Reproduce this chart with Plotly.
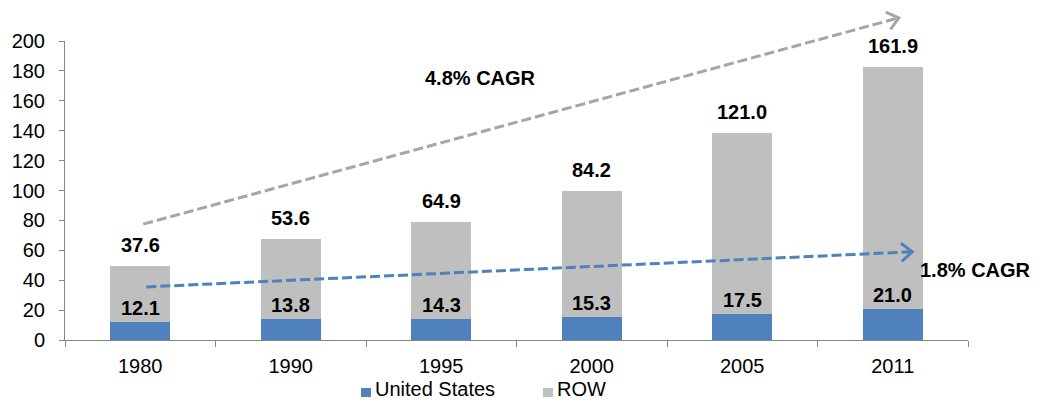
import plotly.graph_objects as go

# Installed base: United States vs rest of world
years = ["1980", "1990", "1995", "2000", "2005", "2011"]
us_values = [12.1, 13.8, 14.3, 15.3, 17.5, 21.0]
row_values = [37.6, 53.6, 64.9, 84.2, 121.0, 161.9]
series_names = ["United States", "ROW"]

# Trend arrows: (category position, value) for start and tip
row_trend = {"label": "4.8% CAGR", "start": (0.02, 77.5), "end": (5.04, 215.5)}
us_trend = {"label": "1.8% CAGR", "start": (0.04, 35.5), "end": (5.13, 59.0)}

US_COLOR = "#4F81BD"
ROW_COLOR = "#BFBFBF"
ROW_ARROW = "#A6A6A6"
AXIS_COLOR = "#868686"
FONT = "Arial, Liberation Sans, sans-serif"

W, H = 1052, 402
M = dict(l=65, r=84, t=41, b=62)
Y_MAX = 200
plot_w = W - M["l"] - M["r"]
plot_h = H - M["t"] - M["b"]
n_cat = len(years)

fig = go.Figure()
fig.add_trace(go.Bar(x=years, y=us_values, name=series_names[0],
                     marker=dict(color=US_COLOR, line=dict(width=0)), width=0.4))
fig.add_trace(go.Bar(x=years, y=row_values, name=series_names[1],
                     marker=dict(color=ROW_COLOR, line=dict(width=0)), width=0.4))

label_font = dict(family=FONT, size=20, color="black", weight="bold")
annotations = []
for i, (us, row) in enumerate(zip(us_values, row_values)):
    # numeric category index so year-like names are not read as positions
    annotations.append(dict(x=i, y=us + row, xref="x", yref="y", text=f"{row:.1f}",
                            showarrow=False, yanchor="middle", yshift=21, font=label_font))
    annotations.append(dict(x=i, y=us, xref="x", yref="y", text=f"{us:.1f}",
                            showarrow=False, yanchor="middle", yshift=14, font=label_font))


def to_paper(pos):
    cat, val = pos
    return (cat + 0.5) / n_cat, val / Y_MAX


def to_px(pos):
    px, py = to_paper(pos)
    return px * plot_w, py * plot_h


def px_to_paper(x, y):
    return x / plot_w, y / plot_h


def page_to_paper(x, y):
    # page pixels (top-left origin) to paper coordinates
    return (x - M["l"]) / plot_w, (H - M["b"] - y) / plot_h


shapes = []
for trend, color in ((row_trend, ROW_ARROW), (us_trend, US_COLOR)):
    x0, y0 = to_paper(trend["start"])
    x1, y1 = to_paper(trend["end"])
    shapes.append(dict(type="line", xref="paper", yref="paper", x0=x0, y0=y0, x1=x1, y1=y1,
                       line=dict(color=color, width=3, dash="10px,4px")))
    # open chevron head
    sx, sy = to_px(trend["start"])
    ex, ey = to_px(trend["end"])
    dx, dy = ex - sx, ey - sy
    length = (dx ** 2 + dy ** 2) ** 0.5
    ux, uy = dx / length, dy / length
    nx, ny = -uy, ux
    arm_back, arm_side = 11, 9
    a = px_to_paper(ex - ux * arm_back + nx * arm_side, ey - uy * arm_back + ny * arm_side)
    b = px_to_paper(ex - ux * arm_back - nx * arm_side, ey - uy * arm_back - ny * arm_side)
    tip = px_to_paper(ex, ey)
    shapes.append(dict(type="path", xref="paper", yref="paper",
                       path=f"M {a[0]},{a[1]} L {tip[0]},{tip[1]} L {b[0]},{b[1]}",
                       line=dict(color=color, width=3)))

lx, ly = page_to_paper(480, 78)
annotations.append(dict(x=lx, y=ly, xref="paper", yref="paper", text=row_trend["label"],
                        showarrow=False, xanchor="center", yanchor="middle", font=label_font))
lx, ly = page_to_paper(975, 270)
annotations.append(dict(x=lx, y=ly, xref="paper", yref="paper", text=us_trend["label"],
                        showarrow=False, xanchor="center", yanchor="middle", font=label_font))

# Legend below the axis: colour square followed by series name
legend_items = [(series_names[0], US_COLOR, 361), (series_names[1], ROW_COLOR, 543)]
for name, color, left in legend_items:
    sx0, sy0 = page_to_paper(left, 397)
    sx1, sy1 = page_to_paper(left + 10, 388)
    shapes.append(dict(type="rect", xref="paper", yref="paper", x0=sx0, y0=sy0, x1=sx1, y1=sy1,
                       line=dict(width=0), fillcolor=color))
    tx, ty = page_to_paper(left + 13, 389)
    annotations.append(dict(x=tx, y=ty, xref="paper", yref="paper", text=name,
                            showarrow=False, xanchor="left", yanchor="middle", borderpad=0,
                            font=dict(family=FONT, size=20, color="black")))

fig.update_layout(
    width=W, height=H, margin=M,
    barmode="stack",
    plot_bgcolor="white", paper_bgcolor="white",
    font=dict(family=FONT, size=20, color="black"),
    showlegend=False,
    annotations=annotations,
    shapes=shapes,
)
fig.update_xaxes(type="category", range=[-0.5, n_cat - 0.5], showline=True,
                 linecolor=AXIS_COLOR, linewidth=1, ticks="outside", tickson="boundaries",
                 ticklen=6, tickcolor=AXIS_COLOR, showgrid=False, ticklabelstandoff=8,
                 tickangle=0)
fig.update_yaxes(range=[0, Y_MAX], dtick=20, showline=True, linecolor=AXIS_COLOR, linewidth=1,
                 ticks="outside", ticklen=5, tickcolor=AXIS_COLOR, showgrid=False,
                 zeroline=False, ticklabelstandoff=10)

fig.write_html("out.html")
